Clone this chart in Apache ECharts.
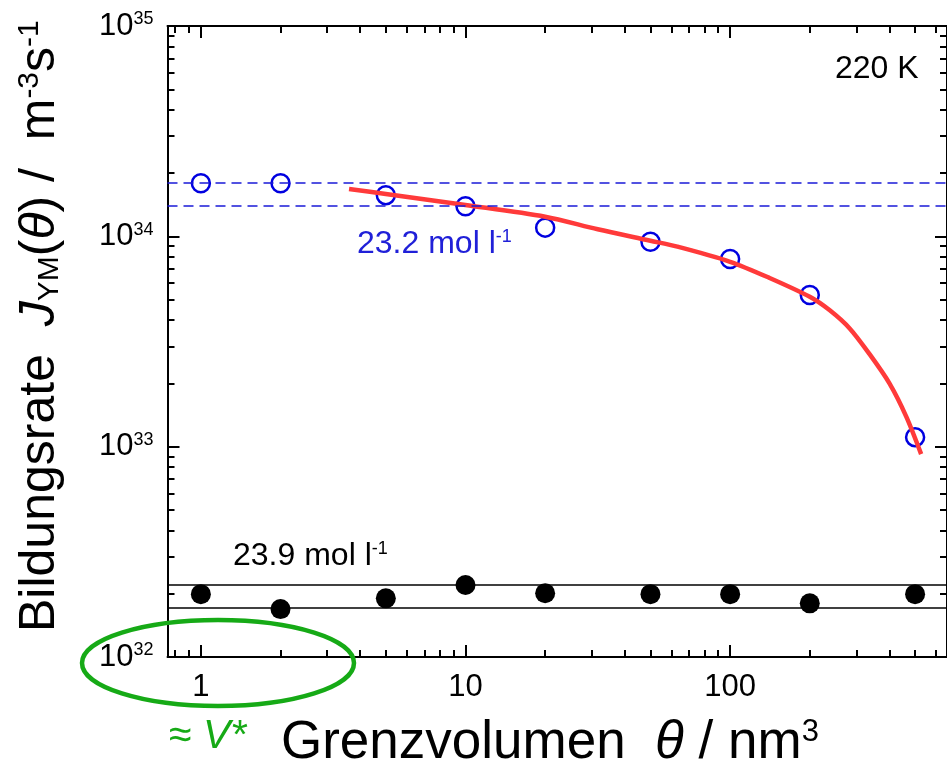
<!DOCTYPE html>
<html>
<head>
<meta charset="utf-8">
<script src="https://cdn.jsdelivr.net/npm/echarts@6/dist/echarts.min.js"></script>
<style>
  html, body { margin: 0; padding: 0; background: #fff; }
  #main { width: 947px; height: 767px; }
</style>
</head>
<body>
<div id="main"></div>
<script>
// Grenzvolumen theta (nm^3)
const theta = [1, 2, 5, 10, 20, 50, 100, 200, 500];
// 23.2 mol/l (offene Kreise)
const rate232 = [1.79e34, 1.79e34, 1.57e34, 1.39e34, 1.10e34, 9.43e33, 7.80e33, 5.26e33, 1.11e33];
// 23.9 mol/l (gefuellte Kreise)
const rate239 = [1.99e32, 1.69e32, 1.90e32, 2.20e32, 2.01e32, 1.99e32, 1.99e32, 1.80e32, 1.99e32];
// Anpassung (rote Kurve)
const fitTheta = [3.63, 5, 10, 20, 31.6, 50, 63.2, 100, 141, 200, 238, 283, 336, 400, 463, 527];
const fitRate = [1.68e34, 1.59e34, 1.41e34, 1.24e34, 1.08e34, 9.53e33, 8.93e33, 7.57e33, 6.34e33,
                 5.16e33, 4.45e33, 3.65e33, 2.76e33, 2.00e33, 1.39e33, 9.22e32];
// Grenzen (horizontale Linien)
const bandBlue = [1.79e34, 1.40e34];
const bandBlack = [2.20e32, 1.71e32];

// Achsen
const xMajor = [1, 10, 100];
const xMinor = [0.8, 0.9, 2, 3, 4, 5, 6, 7, 8, 9, 20, 30, 40, 50, 60, 70, 80, 90, 200, 300, 400, 500, 600];
const yMajor = [1e32, 1e33, 1e34, 1e35];
const yMinor = [2e32, 3e32, 4e32, 5e32, 6e32, 7e32, 8e32, 9e32,
                2e33, 3e33, 4e33, 5e33, 6e33, 7e33, 8e33, 9e33,
                2e34, 3e34, 4e34, 5e34, 6e34, 7e34, 8e34, 9e34];
const xMin = 0.748, xMax = 660;
const yMin = 1e32, yMax = 1e35;

const FONT = '"Liberation Sans", Arial, Helvetica, sans-serif';

function pairs(xs, ys) {
  return xs.map((x, i) => [x, ys[i]]);
}

function axis(pos, min, max, ticks, len, label) {
  return {
    type: 'log',
    logBase: 10,
    position: pos,
    min: min,
    max: max,
    axisLine: { show: label !== null, onZero: false, lineStyle: { color: '#000', width: 2 } },
    axisTick: { show: true, inside: true, length: len, customValues: ticks,
                lineStyle: { color: '#000', width: 2 } },
    axisLabel: label ? label : { show: false },
    splitLine: { show: false },
    minorTick: { show: false }
  };
}

const xLabel = {
  show: true,
  customValues: xMajor,
  margin: 15,
  color: '#000',
  fontFamily: FONT,
  fontSize: 31
};
const yLabel = {
  show: true,
  customValues: yMajor,
  margin: 14,
  formatter: function (v) {
    return '{m|10}{s|' + Math.round(Math.log10(v)) + '}';
  },
  rich: {
    m: { fontFamily: FONT, fontSize: 31, color: '#000' },
    s: { fontFamily: FONT, fontSize: 18, color: '#000', verticalAlign: 'top' }
  }
};

const chart = echarts.init(document.getElementById('main'));
chart.setOption({
  animation: false,
  backgroundColor: '#fff',
  grid: { left: 167.5, top: 26, width: 783.5, height: 631, containLabel: false },
  xAxis: [
    axis('bottom', xMin, xMax, xMajor, 12, xLabel),
    axis('bottom', xMin, xMax, xMinor, 7, null),
    axis('top', xMin, xMax, xMajor, 12, false),
    axis('top', xMin, xMax, xMinor, 7, null)
  ],
  yAxis: [
    axis('left', yMin, yMax, yMajor, 12, yLabel),
    axis('left', yMin, yMax, yMinor, 7, null),
    axis('right', yMin, yMax, yMajor, 12, false),
    axis('right', yMin, yMax, yMinor, 7, null)
  ],
  series: [
    {
      name: 'band-blue',
      type: 'line',
      data: [],
      z: 1,
      markLine: {
        silent: true,
        symbol: 'none',
        label: { show: false },
        lineStyle: { color: '#1a1ad8', width: 1.5, type: [10, 6] },
        data: bandBlue.map(v => ({ yAxis: v }))
      }
    },
    {
      name: 'band-black',
      type: 'line',
      data: [],
      z: 1,
      markLine: {
        silent: true,
        symbol: 'none',
        label: { show: false },
        lineStyle: { color: '#000', width: 1.5, type: 'solid' },
        data: bandBlack.map(v => ({ yAxis: v }))
      }
    },
    {
      name: '23.9 mol/l',
      type: 'scatter',
      symbol: 'circle',
      symbolSize: 20,
      itemStyle: { color: '#000', opacity: 1 },
      z: 3,
      data: pairs(theta, rate239)
    },
    {
      name: '23.2 mol/l',
      type: 'scatter',
      symbol: 'circle',
      symbolSize: 18,
      itemStyle: { color: '#fff', borderColor: '#0000e0', borderWidth: 2.5, opacity: 1 },
      z: 3,
      data: pairs(theta, rate232)
    },
    {
      name: 'fit',
      type: 'line',
      smooth: 0.3,
      showSymbol: false,
      symbol: 'none',
      lineStyle: { color: '#ff3a3a', width: 4.5 },
      z: 4,
      data: pairs(fitTheta, fitRate)
    }
  ],
  graphic: [
    {
      type: 'text', x: 835, y: 69,
      style: { text: '220 K', fontFamily: FONT, fontSize: 32, fill: '#000',
               align: 'left', verticalAlign: 'middle' }
    },
    {
      type: 'text', x: 357, y: 244,
      style: {
        text: '{t|23.2 mol l}{s|-1}', align: 'left', verticalAlign: 'middle',
        rich: {
          t: { fontFamily: FONT, fontSize: 32, fill: '#2020d8' },
          s: { fontFamily: FONT, fontSize: 18, fill: '#2020d8', verticalAlign: 'top' }
        }
      }
    },
    {
      type: 'text', x: 233, y: 556,
      style: {
        text: '{t|23.9 mol l}{s|-1}', align: 'left', verticalAlign: 'middle',
        rich: {
          t: { fontFamily: FONT, fontSize: 32, fill: '#000' },
          s: { fontFamily: FONT, fontSize: 18, fill: '#000', verticalAlign: 'top' }
        }
      }
    },
    {
      type: 'ellipse',
      shape: { cx: 218, cy: 663, rx: 136, ry: 43 },
      style: { fill: 'none', stroke: '#16aa16', lineWidth: 4.5 },
      z: 100
    },
    {
      type: 'text', x: 169, y: 737,
      style: {
        text: '{t|≈ }{i|V*}', align: 'left', verticalAlign: 'middle',
        rich: {
          t: { fontFamily: FONT, fontSize: 41, fill: '#16aa16' },
          i: { fontFamily: FONT, fontSize: 41, fontStyle: 'italic', fill: '#16aa16' }
        }
      }
    },
    {
      type: 'text', x: 281, y: 743,
      style: {
        text: '{t|Grenzvolumen  }{i|θ}{t| / nm}{s|3}', align: 'left', verticalAlign: 'middle',
        rich: {
          t: { fontFamily: FONT, fontSize: 53, fill: '#000' },
          i: { fontFamily: FONT, fontSize: 53, fontStyle: 'italic', fill: '#000' },
          s: { fontFamily: FONT, fontSize: 31, fill: '#000', verticalAlign: 'top' }
        }
      }
    },
    {
      type: 'text', x: 40, y: 632, rotation: Math.PI / 2,
      style: {
        text: '{t|Bildungsrate  }{i|J}{b|YM}{t|(}{i|θ}{t|) /  m}{s|-3}{t|s}{s|-1}',
        align: 'left', verticalAlign: 'middle',
        rich: {
          t: { fontFamily: FONT, fontSize: 50, fill: '#000' },
          i: { fontFamily: FONT, fontSize: 50, fontStyle: 'italic', fill: '#000' },
          b: { fontFamily: FONT, fontSize: 30, fill: '#000', verticalAlign: 'bottom' },
          s: { fontFamily: FONT, fontSize: 30, fill: '#000', verticalAlign: 'top' }
        }
      }
    }
  ]
});
</script>
</body>
</html>
